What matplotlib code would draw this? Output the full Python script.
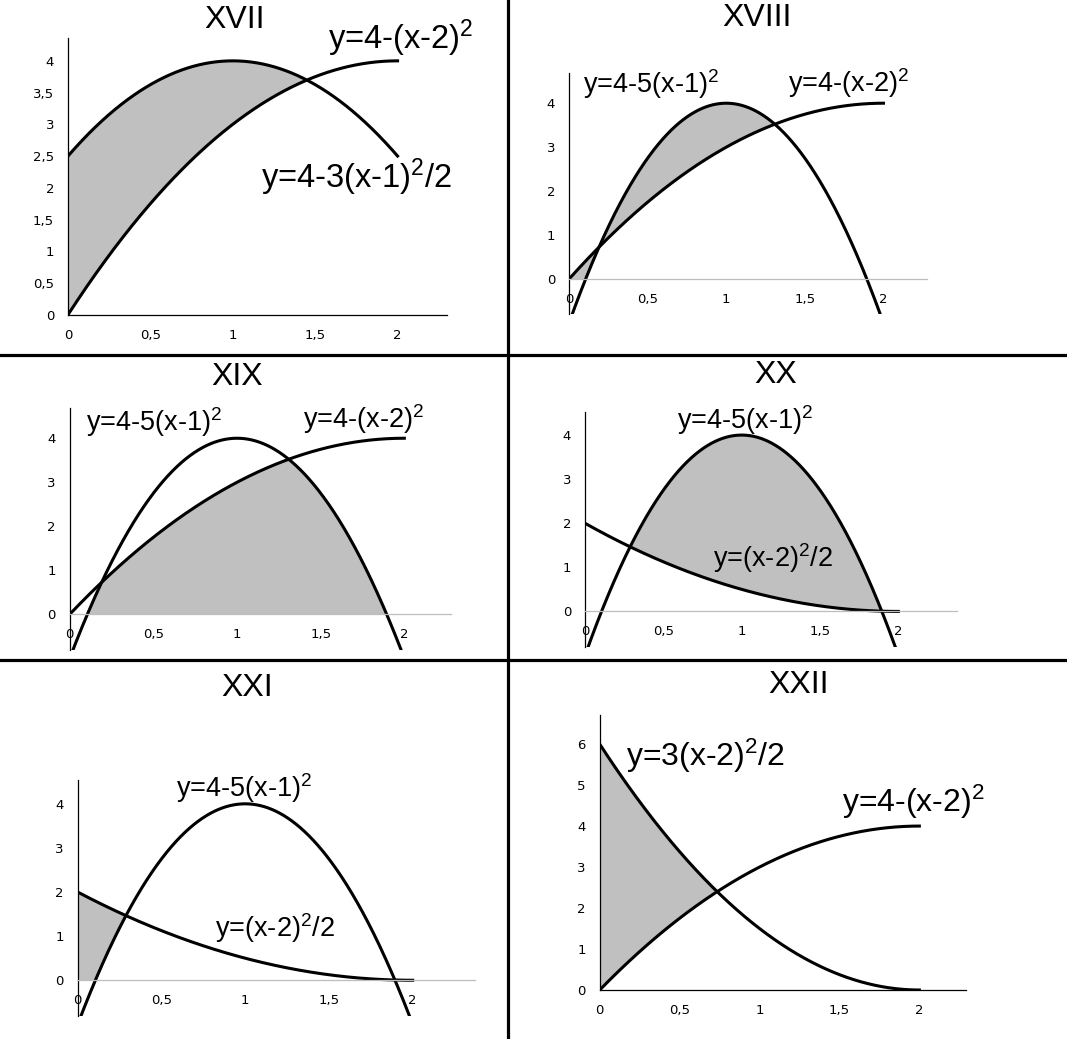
import matplotlib
matplotlib.use("Agg")
import matplotlib.pyplot as plt
import numpy as np

# curves are y = k + a*(x - h)^2, sampled on x in [0, 2]
titles = ["XVII", "XVIII", "XIX", "XX", "XXI", "XXII"]
curve_a = [[-1.0, -1.5], [-5.0, -1.0], [-5.0, -1.0], [-5.0, 0.5], [-5.0, 0.5], [1.5, -1.0]]
curve_h = [[2.0, 1.0], [1.0, 2.0], [1.0, 2.0], [1.0, 2.0], [1.0, 2.0], [2.0, 2.0]]
curve_k = [[4.0, 4.0], [4.0, 4.0], [4.0, 4.0], [4.0, 0.0], [4.0, 0.0], [0.0, 4.0]]
labels = [["y=4-(x-2)$^2$", "y=4-3(x-1)$^2$/2"],
          ["y=4-5(x-1)$^2$", "y=4-(x-2)$^2$"],
          ["y=4-5(x-1)$^2$", "y=4-(x-2)$^2$"],
          ["y=4-5(x-1)$^2$", "y=(x-2)$^2$/2"],
          ["y=4-5(x-1)$^2$", "y=(x-2)$^2$/2"],
          ["y=3(x-2)$^2$/2", "y=4-(x-2)$^2$"]]
x_ticks = [0, 0.5, 1, 1.5, 2]
x_tick_labels = ["0", "0,5", "1", "1,5", "2"]
y_ticks = [[0, 0.5, 1, 1.5, 2, 2.5, 3, 3.5, 4], [0, 1, 2, 3, 4], [0, 1, 2, 3, 4],
           [0, 1, 2, 3, 4], [0, 1, 2, 3, 4], [0, 1, 2, 3, 4, 5, 6]]
x_lims = [2.30, 2.275, 2.277, 2.376, 2.372, 2.29]
y_lims = [(0, 4.36), (-0.8, 4.68), (-0.81, 4.68), (-0.8, 4.53), (-0.81, 4.54), (0, 6.71)]

# layout, in pixels of the 1067x1039 picture
W, H = 1067, 1039
ax_px = [(68, 447, 38, 314.7), (569, 926.7, 73.3, 314.3), (69.7, 450.7, 408.3, 650),
         (585, 957.3, 411.7, 646.7), (77.7, 475, 780, 1016), (599.7, 965.7, 715, 990)]
title_px = [(235, 28), (757, 26), (237, 385), (776, 383), (247, 696), (799, 693)]
label_pos = [[(1.58, 4.19), (1.17, 2.0)], [(0.089, 4.23), (1.393, 4.26)],
             [(0.097, 4.17), (1.395, 4.24)], [(0.585, 4.13), (0.817, 1.0)],
             [(0.585, 4.15), (0.82, 0.99)], [(0.165, 5.46), (1.514, 4.35)]]
label_size = [23.5, 19.5, 19.5, 19.5, 19.5, 23]

plt.rcParams['font.family'] = ['Liberation Sans', 'DejaVu Sans']
plt.rcParams['mathtext.default'] = 'regular'

fig = plt.figure(figsize=(W / 100, H / 100), dpi=100)

x = np.linspace(0, 2, 801)
for i in range(6):
    l, r, t, b = ax_px[i]
    ax = fig.add_axes([l / W, 1 - b / H, (r - l) / W, (b - t) / H])
    ax.set_xlim(0, x_lims[i])
    ax.set_ylim(*y_lims[i])
    y1 = curve_k[i][0] + curve_a[i][0] * (x - curve_h[i][0]) ** 2
    y2 = curve_k[i][1] + curve_a[i][1] * (x - curve_h[i][1]) ** 2

    if i == 0:
        ax.fill_between(x, y1, y2, where=y2 >= y1, color='#c0c0c0', lw=0)
    elif i == 1:
        # y1 = 4-5(x-1)^2, y2 = 4-(x-2)^2
        stop = x[(x > 1) & (y1 < y2)].min()
        ax.fill_between(x, y2, np.maximum(y1, 0), where=x <= stop, color='#c0c0c0', lw=0)
    elif i == 2:
        low = np.minimum(y1, y2)
        ax.fill_between(x, 0, low, where=low >= 0, color='#c0c0c0', lw=0)
    elif i == 3:
        ax.fill_between(x, y2, y1, where=y1 >= y2, color='#c0c0c0', lw=0)
    elif i == 4:
        base = np.maximum(y1, 0)
        ax.fill_between(x, base, y2, where=(y2 >= base) & (x < 1), color='#c0c0c0', lw=0)
    else:
        ax.fill_between(x, y2, y1, where=y1 >= y2, color='#c0c0c0', lw=0)

    ax.plot(x, y1, color='black', lw=2.2)
    ax.plot(x, y2, color='black', lw=2.2)

    for s in ['top', 'right']:
        ax.spines[s].set_visible(False)
    ax.spines['left'].set_color('black')
    ax.spines['left'].set_linewidth(0.9)
    ax.spines['bottom'].set_position(('data', 0))
    if i in (0, 5):
        ax.spines['bottom'].set_color('black')
        ax.spines['bottom'].set_linewidth(0.9)
    else:
        ax.spines['bottom'].set_color('#bdbdbd')
        ax.spines['bottom'].set_linewidth(0.9)
    ax.set_xticks(x_ticks)
    ax.set_xticklabels(x_tick_labels)
    ax.set_yticks(y_ticks[i])
    ax.set_yticklabels([str(v).replace('.', ',').replace(',0', '') for v in y_ticks[i]])
    ax.tick_params(axis='both', length=0, labelsize=9.5, labelcolor='black')
    for lab in ax.get_xticklabels() + ax.get_yticklabels():
        lab.set_family('DejaVu Sans')
    ax.tick_params(axis='x', pad=10)
    ax.tick_params(axis='y', pad=10)
    ax.patch.set_visible(False)

    for j in range(2):
        ax.text(label_pos[i][j][0], label_pos[i][j][1], labels[i][j],
                fontsize=label_size[i], ha='left', va='baseline', clip_on=False)

    fig.text(title_px[i][0] / W, 1 - title_px[i][1] / H, titles[i],
             fontsize=23, ha='center', va='baseline')

# panel dividers
fig.add_artist(plt.Line2D([508 / W, 508 / W], [0, 1], color='black', lw=2.3))
fig.add_artist(plt.Line2D([0, 1], [1 - 355 / H, 1 - 355 / H], color='black', lw=2.3))
fig.add_artist(plt.Line2D([0, 1], [1 - 660 / H, 1 - 660 / H], color='black', lw=2.3))

fig.savefig("out.png", dpi=100)
